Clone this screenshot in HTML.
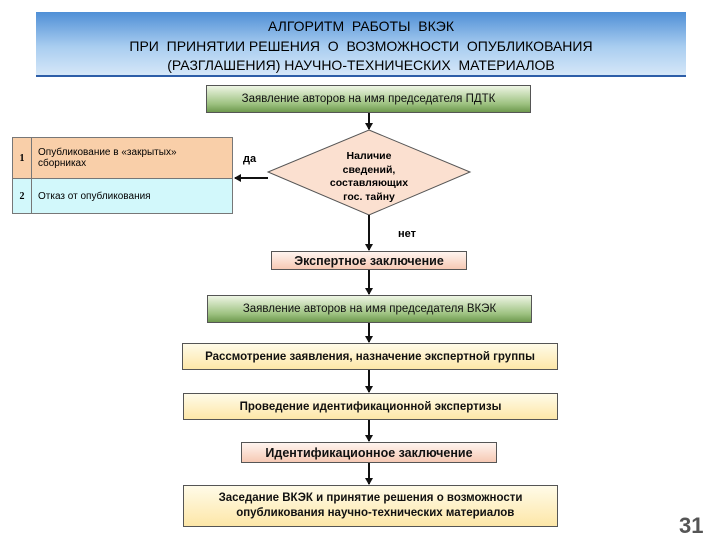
<!DOCTYPE html>
<html><head><meta charset="utf-8"><style>
body{margin:0;width:720px;height:540px;background:#fff;position:relative;overflow:hidden;font-family:"Liberation Sans",sans-serif;}
.b{position:absolute;box-sizing:border-box;border:1px solid #555;display:flex;align-items:center;justify-content:center;text-align:center;font-size:11.5px;color:#111;}
.g{background:linear-gradient(#eef5e4,#9cc17f 70%,#6e9a4e);}
.p{background:linear-gradient(#fff4ef,#f6c9b4);font-weight:bold;font-size:12.5px;}
.y{background:linear-gradient(#fffbe8,#fde7a8);}
.t{position:absolute;font-size:11px;font-weight:bold;}
</style></head><body>
<div style="position:absolute;left:36px;top:12px;width:650px;height:65px;background:linear-gradient(#4f8fd6,#a9cdf0 55%,#d5e7f8);border-bottom:2px solid #2d5ea8;text-align:center;font-size:14px;line-height:19.5px;padding-top:5px;box-sizing:border-box;color:#000;">АЛГОРИТМ&nbsp; РАБОТЫ&nbsp; ВКЭК<br>ПРИ&nbsp; ПРИНЯТИИ РЕШЕНИЯ&nbsp; О&nbsp; ВОЗМОЖНОСТИ&nbsp; ОПУБЛИКОВАНИЯ<br>(РАЗГЛАШЕНИЯ) НАУЧНО-ТЕХНИЧЕСКИХ&nbsp; МАТЕРИАЛОВ</div>
<div class="b g" style="left:206px;top:85px;width:325px;height:28px;">Заявление авторов на имя председателя ПДТК</div>
<svg style="position:absolute;left:0;top:0" width="720" height="540">
<defs><marker id="a" markerWidth="8" markerHeight="8" refX="6" refY="4" orient="auto" markerUnits="userSpaceOnUse"><path d="M0,0L7,4L0,8z" fill="#111"/></marker></defs>
<polygon points="369,130 470,172 369,215 268,172" fill="#fbe0d0" stroke="#555"/>
<g stroke="#111" stroke-width="2" marker-end="url(#a)">
<line x1="369" y1="113" x2="369" y2="129"/>
<line x1="268" y1="178" x2="235" y2="178"/>
<line x1="369" y1="215" x2="369" y2="250"/>
<line x1="369" y1="270" x2="369" y2="294"/>
<line x1="369" y1="323" x2="369" y2="342"/>
<line x1="369" y1="370" x2="369" y2="392"/>
<line x1="369" y1="420" x2="369" y2="441"/>
<line x1="369" y1="463" x2="369" y2="484"/>
</g></svg>
<div style="position:absolute;left:310px;top:150px;width:118px;text-align:center;font-size:10.5px;font-weight:bold;line-height:13.5px;">Наличие<br>сведений,<br>составляющих<br>гос. тайну</div>
<div style="position:absolute;left:12px;top:137px;width:221px;height:77px;border:1px solid #777;box-sizing:border-box;font-size:10px;">
<div style="height:40px;background:#f9cfa9;border-bottom:1px solid #777;display:flex;align-items:center;"><span style="width:18px;text-align:center;border-right:1px solid #777;height:100%;display:flex;align-items:center;justify-content:center;font-family:'Liberation Serif';font-weight:bold;">1</span><span style="padding-left:6px;">Опубликование в «закрытых»<br>сборниках</span></div>
<div style="height:34px;background:#d2f8fb;display:flex;align-items:center;"><span style="width:18px;text-align:center;border-right:1px solid #777;height:100%;display:flex;align-items:center;justify-content:center;font-family:'Liberation Serif';font-weight:bold;">2</span><span style="padding-left:6px;">Отказ от опубликования</span></div></div>
<div class="t" style="left:243px;top:153px;">да</div>
<div class="t" style="left:398px;top:228px;">нет</div>
<div class="b p" style="left:271px;top:251px;width:196px;height:19px;">Экспертное заключение</div>
<div class="b g" style="left:207px;top:295px;width:325px;height:28px;">Заявление авторов на имя председателя ВКЭК</div>
<div class="b y" style="left:182px;top:343px;width:376px;height:27px;font-weight:bold;">Рассмотрение заявления, назначение экспертной группы</div>
<div class="b y" style="left:183px;top:393px;width:375px;height:27px;font-weight:bold;">Проведение идентификационной экспертизы</div>
<div class="b p" style="left:241px;top:442px;width:256px;height:21px;">Идентификационное заключение</div>
<div class="b y" style="left:183px;top:485px;width:375px;height:42px;font-weight:bold;line-height:15px;">Заседание ВКЭК и принятие решения о возможности<br>&nbsp;&nbsp;&nbsp;опубликования научно-технических материалов</div>
<div style="position:absolute;left:679px;top:513px;font-size:22px;font-weight:bold;color:#555;">31</div>
</body></html>
